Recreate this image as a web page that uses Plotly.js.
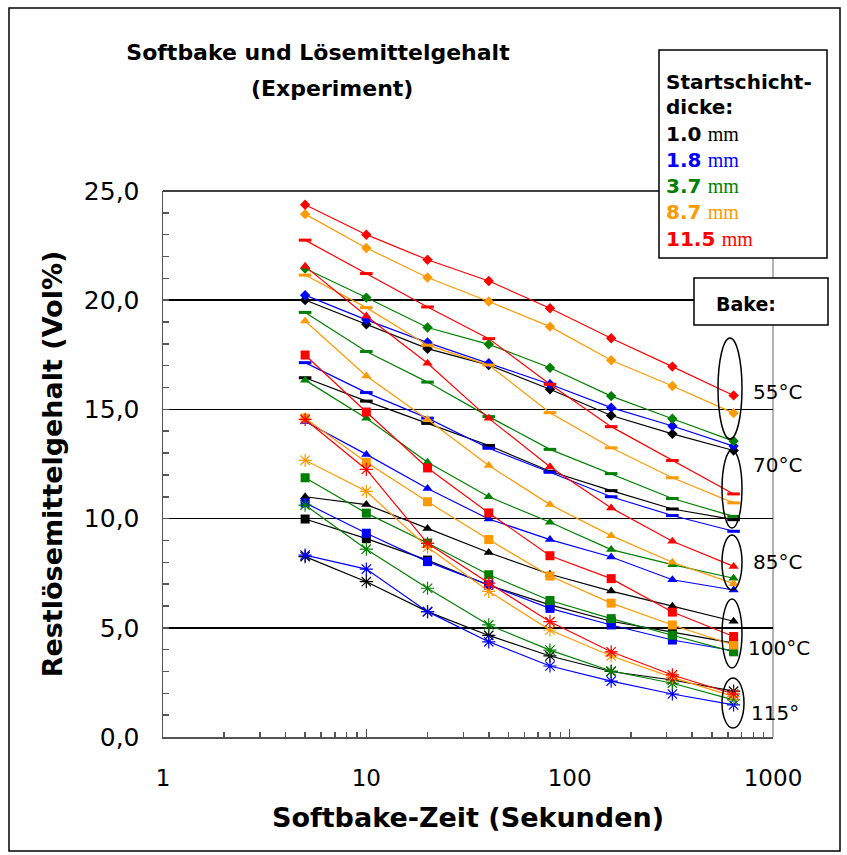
<!DOCTYPE html>
<html>
<head>
<meta charset="utf-8">
<script src="https://cdn.plot.ly/plotly-3.0.1.min.js"></script>
<style>html,body{margin:0;padding:0;background:#fff;}#chart{width:847px;height:855px;}</style>
</head>
<body>
<div id="chart"></div>
<script>
// Softbake time (s)
const times = [5, 10, 20, 40, 80, 160, 320, 640];

// thickness categories and colours
const thickLabels = ["1.0", "1.8", "3.7", "8.7", "11.5"];
const thickColors = ["#000000", "#0000FF", "#008000", "#FF9900", "#FF0000"];

// bake temperatures
const bakeLabels = ["55°C", "70°C", "85°C", "100°C", "115°"];

// 55 °C (diamonds)
const b55_t10 = [20.01, 18.9, 17.78, 17.03, 15.92, 14.72, 13.88, 13.12];
const b55_t18 = [20.23, 19.1, 18.06, 17.11, 16.15, 15.08, 14.24, 13.32];
const b55_t37 = [21.45, 20.12, 18.75, 17.98, 16.91, 15.61, 14.57, 13.55];
const b55_t87 = [23.94, 22.39, 21.04, 19.94, 18.79, 17.25, 16.07, 14.83];
const b55_t115 = [24.37, 23.0, 21.85, 20.88, 19.63, 18.26, 16.96, 15.64];

// 70 °C (dashes)
const b70_t10 = [16.45, 15.38, 14.36, 13.35, 12.17, 11.28, 10.44, 9.95];
const b70_t18 = [17.14, 15.77, 14.6, 13.22, 12.12, 11.0, 10.14, 9.42];
const b70_t37 = [19.44, 17.65, 16.25, 14.67, 13.17, 12.06, 10.92, 10.1];
const b70_t87 = [21.15, 19.66, 17.94, 17.03, 14.85, 13.24, 11.87, 10.72];
const b70_t115 = [22.75, 21.22, 19.69, 18.24, 16.15, 14.21, 12.66, 11.13];

// 85 °C (triangles)
const b85_t10 = [11.0, 10.64, 9.55, 8.45, 7.45, 6.68, 5.99, 5.3];
const b85_t18 = [14.45, 12.94, 11.38, 9.98, 9.04, 8.24, 7.2, 6.73];
const b85_t37 = [16.34, 14.59, 12.58, 11.0, 9.83, 8.58, 7.89, 7.27];
const b85_t87 = [19.05, 16.53, 14.54, 12.43, 10.64, 9.22, 8.0, 7.02];
const b85_t115 = [21.55, 19.28, 17.11, 14.59, 12.37, 10.49, 8.96, 7.81];

// 100 °C (squares)
const b100_t10 = [9.98, 9.08, 8.1, 6.95, 6.05, 5.3, 4.8, 4.3];
const b100_t18 = [10.72, 9.33, 8.03, 6.97, 5.89, 5.13, 4.44, 3.95];
const b100_t37 = [11.87, 10.25, 8.88, 7.43, 6.25, 5.42, 4.66, 3.9];
const b100_t87 = [14.6, 12.58, 10.77, 9.04, 7.37, 6.13, 5.13, 4.21];
const b100_t115 = [17.49, 14.88, 12.32, 10.26, 8.3, 7.25, 5.72, 4.6];

// 115 °C (asterisks)
const b115_t10 = [8.26, 7.11, 5.74, 4.65, 3.71, 3.0, 2.61, 2.1];
const b115_t18 = [8.33, 7.69, 5.74, 4.36, 3.25, 2.56, 1.97, 1.47];
const b115_t37 = [10.62, 8.6, 6.81, 5.13, 3.98, 3.02, 2.46, 1.7];
const b115_t87 = [12.67, 11.25, 8.69, 6.67, 4.9, 3.71, 2.73, 1.85];
const b115_t115 = [14.54, 12.25, 8.87, 7.05, 5.28, 3.9, 2.84, 1.97];

const groups = [
  {sym: "diamond", size: 8, lw: 0, series: [b55_t10, b55_t18, b55_t37, b55_t87, b55_t115]},
  {sym: "line-ew", size: 9, lw: 3, series: [b70_t10, b70_t18, b70_t37, b70_t87, b70_t115]},
  {sym: "triangle-up", size: 9, lw: 0, series: [b85_t10, b85_t18, b85_t37, b85_t87, b85_t115]},
  {sym: "square", size: 9, lw: 0, series: [b100_t10, b100_t18, b100_t37, b100_t87, b100_t115]},
  {sym: "asterisk-open", size: 11, lw: 1.2, series: [b115_t10, b115_t18, b115_t37, b115_t87, b115_t115]}
];

const traces = [];
groups.forEach((g, gi) => {
  g.series.forEach((ys, ti) => {
    traces.push({
      type: "scatter", mode: "lines+markers",
      x: times, y: ys,
      name: thickLabels[ti] + " mm, " + bakeLabels[gi],
      line: {color: thickColors[ti], width: 1.2},
      marker: {symbol: g.sym, size: g.size, color: thickColors[ti],
               line: {color: thickColors[ti], width: g.lw}},
      showlegend: false, hoverinfo: "x+y+name"
    });
  });
});

// plot area in pixels: x 163..773, y 191..737
const L = 163, R = 773, T = 191, B = 737;
const fx = p => (p - L) / (R - L);
const fy = p => (B - p) / (B - T);

const shapes = [];
// outer border
shapes.push({type: "rect", xref: "paper", yref: "paper", x0: fx(9), x1: fx(840), y0: fy(8), y1: fy(851),
  line: {color: "#000", width: 1.5}, fillcolor: "rgba(0,0,0,0)", layer: "below"});
// right border of plot area
shapes.push({type: "line", xref: "paper", yref: "paper", x0: 1, x1: 1, y0: 0, y1: 1,
  line: {color: "#999", width: 1.5}, layer: "below"});
// top line (25)
shapes.push({type: "line", xref: "paper", yref: "paper", x0: 0, x1: 1, y0: 1, y1: 1,
  line: {color: "#000", width: 1.5}, layer: "below"});
// legend box
shapes.push({type: "rect", xref: "paper", yref: "paper", x0: fx(659), x1: fx(827), y0: fy(258), y1: fy(50),
  line: {color: "#000", width: 1.5}, fillcolor: "#fff", layer: "above"});
// bake box
shapes.push({type: "rect", xref: "paper", yref: "paper", x0: fx(694), x1: fx(828), y0: fy(325), y1: fy(278),
  line: {color: "#000", width: 1.5}, fillcolor: "#fff", layer: "above"});
// ellipses around the 640 s points
const ell = [[718, 742, 338, 439], [722, 742, 450, 528], [722, 742, 535, 590], [722, 742, 599, 668], [722, 744, 678, 728]];
ell.forEach(e => shapes.push({type: "circle", xref: "paper", yref: "paper",
  x0: fx(e[0]), x1: fx(e[1]), y0: fy(e[3]), y1: fy(e[2]),
  line: {color: "#000", width: 1.5}, fillcolor: "rgba(0,0,0,0)", layer: "above"}));

const annotations = [];
const legFont = {family: "DejaVu Sans", size: 20, color: "#000"};
const mm = ' <span style="font-family:Liberation Serif;font-weight:normal;font-size:20px">mm</span>';
annotations.push({xref: "paper", yref: "paper", x: fx(664), y: fy(82), xanchor: "left", yanchor: "middle",
  text: "<b>Startschicht-</b>", showarrow: false, font: legFont});
annotations.push({xref: "paper", yref: "paper", x: fx(664), y: fy(107), xanchor: "left", yanchor: "middle",
  text: "<b>dicke:</b>", showarrow: false, font: legFont});
const legY = [134, 160, 186, 212, 239];
thickLabels.forEach((t, i) => annotations.push({xref: "paper", yref: "paper", x: fx(664), y: fy(legY[i]),
  xanchor: "left", yanchor: "middle", text: "<b>" + t + "</b>" + mm, showarrow: false,
  font: {family: "DejaVu Sans", size: 20, color: thickColors[i]}}));
annotations.push({xref: "paper", yref: "paper", x: fx(714), y: fy(304), xanchor: "left", yanchor: "middle",
  text: "<b>Bake:</b>", showarrow: false, font: {family: "DejaVu Sans", size: 19, color: "#000"}});
const bakePos = [[751, 392], [751, 465], [751, 562], [746, 648], [749, 713]];
bakeLabels.forEach((b, i) => annotations.push({xref: "paper", yref: "paper", x: fx(bakePos[i][0]), y: fy(bakePos[i][1]),
  xanchor: "left", yanchor: "middle", text: b, showarrow: false,
  font: {family: "DejaVu Sans", size: 20, color: "#000"}}));
// second title line
annotations.push({xref: "paper", yref: "paper", x: fx(332), y: fy(88), xanchor: "center", yanchor: "middle",
  text: "<b>(Experiment)</b>", showarrow: false, font: {family: "DejaVu Sans", size: 22, color: "#000"}});

const layout = {
  width: 847, height: 855,
  margin: {l: L, r: 847 - R, t: T, b: 855 - B},
  paper_bgcolor: "#fff", plot_bgcolor: "#fff",
  separators: ",.",
  title: {text: "<b>Softbake und Lösemittelgehalt</b>",
    font: {family: "DejaVu Sans", size: 22, color: "#000"},
    x: 318 / 847, xanchor: "center", xref: "container",
    y: 1 - 52 / 855, yanchor: "middle", yref: "container"},
  xaxis: {type: "log", range: [0, 3], tickmode: "linear", tick0: 0, dtick: 1, tickformat: "d",
    ticks: "inside", ticklen: 8, tickcolor: "#555", tickwidth: 1.5,
    minor: {ticks: "inside", ticklen: 5, tickcolor: "#555", tickwidth: 1.5, dtick: "D1", showgrid: false},
    showgrid: false, zeroline: false, showline: true, linecolor: "#555", linewidth: 1.5,
    tickfont: {family: "DejaVu Sans", size: 23, color: "#000"}, ticklabelstandoff: 20,
    title: {text: "<b>Softbake-Zeit (Sekunden)</b>", font: {family: "DejaVu Sans", size: 27, color: "#000"}, standoff: 18}},
  yaxis: {range: [0, 25], tickmode: "linear", tick0: 0, dtick: 5, tickformat: ".1f",
    ticks: "inside", ticklen: 6, tickcolor: "#555", tickwidth: 1.5,
    minor: {ticks: "inside", ticklen: 6, tickcolor: "#555", tickwidth: 1.5, dtick: 1, showgrid: false},
    showgrid: true, gridcolor: "#000", gridwidth: 1.5, zeroline: false,
    showline: true, linecolor: "#555", linewidth: 1.5,
    tickfont: {family: "DejaVu Sans", size: 25, color: "#000"}, ticklabelstandoff: 17,
    title: {text: "<b>Restlösemittelgehalt (Vol%)</b>", font: {family: "DejaVu Sans", size: 27, color: "#000"}, standoff: 13}},
  shapes: shapes,
  annotations: annotations,
  showlegend: false
};

Plotly.newPlot("chart", traces, layout, {displayModeBar: false, staticPlot: true});
</script>
</body>
</html>
